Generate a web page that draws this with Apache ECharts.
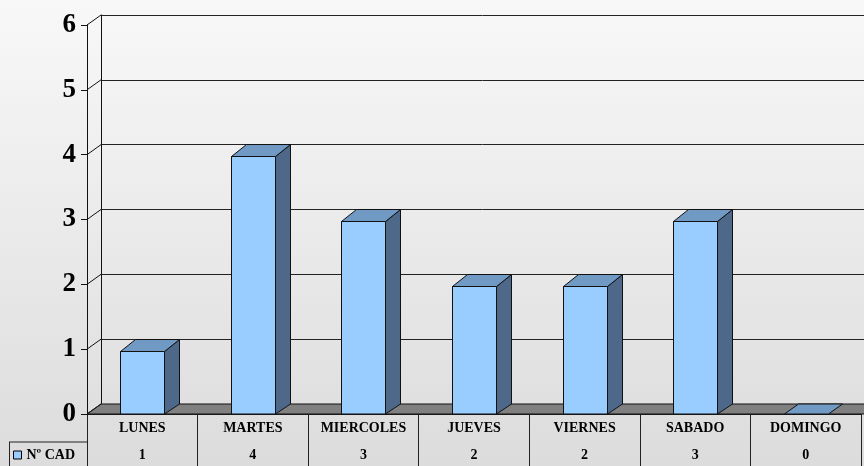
<!DOCTYPE html>
<html><head><meta charset="utf-8">
<script src="https://cdn.jsdelivr.net/npm/echarts@6/dist/echarts.min.js"></script>
<style>html,body{margin:0;padding:0;background:#fff}#c{width:864px;height:466px;}</style>
</head><body><div id="c"></div>
<script>
const categories = ['LUNES','MARTES','MIERCOLES','JUEVES','VIERNES','SABADO','DOMINGO'];
const values = [1,4,3,2,2,3,0];
const seriesName = 'Nº CAD';
const yTicks = [0,1,2,3,4,5,6];

const serif = '"Liberation Serif","Times New Roman",serif';
const BDX = 15, BDY = 12;   // bar depth offset
const FDX = 14, FDY = 10;   // floor / axis depth offset
const BW = 44;

const chart = echarts.init(document.getElementById('c'));

// bars drawn on the front grid (grid 1), extruded backwards
function renderBar(params, api) {
  const i = api.value(0), v = api.value(1);
  const c = api.coord([i, v]);
  const base = api.coord([i, 0]);
  const fx = Math.round(c[0] - BW / 2) + 0.5;
  const fb = base[1];
  const fy = Math.round(c[1] + 1.5) + 0.5;
  const bx = fx + BDX, by = fy - BDY;
  const bb = fb - FDY;
  const stroke = {stroke: '#111', lineWidth: 1};
  const children = [];
  if (v > 0) {
    children.push({type: 'polygon', shape: {points: [[fx + BW, fy], [bx + BW, by], [bx + BW, bb], [fx + BW, fb]]},
      style: Object.assign({fill: '#4d6889'}, stroke)});
    children.push({type: 'rect', shape: {x: fx, y: fy, width: BW, height: fb - fy},
      style: Object.assign({fill: '#99ccff'}, stroke)});
    children.push({type: 'polygon', shape: {points: [[fx, fy], [fx + BW, fy], [bx + BW, by], [bx, by]]},
      style: Object.assign({fill: '#7099c4'}, stroke)});
  } else {
    children.push({type: 'polygon', shape: {points: [[fx, fb], [fx + BW, fb], [fx + BW + FDX, bb], [fx + FDX, bb]]},
      style: Object.assign({fill: '#7099c4'}, stroke)});
  }
  return {type: 'group', children};
}

function renderConnector(params, api) {
  const cs = params.coordSys;
  const p = api.coord([0, api.value(1)]);
  return {type: 'line', shape: {x1: cs.x, y1: p[1], x2: cs.x - FDX, y2: p[1] + FDY},
    style: {stroke: '#111', lineWidth: 1}};
}

function renderFloor(params, api) {
  const cs = params.coordSys;
  const y0 = cs.y + cs.height;
  return {type: 'polygon', shape: {points: [[cs.x, y0], [cs.x + cs.width + 20, y0], [cs.x + cs.width + 20 - FDX, y0 + FDY], [cs.x - FDX, y0 + FDY]]},
    style: {fill: '#808080', stroke: '#111', lineWidth: 1}};
}

const option = {
  animation: false,
  backgroundColor: {type: 'linear', x: 0, y: 0, x2: 0, y2: 1,
    colorStops: [{offset: 0, color: '#f8f8f8'}, {offset: 1, color: '#dcdcdc'}]},
  grid: [
    {left: 101, top: 15, right: 0, height: 389},
    {left: 87, top: 25, width: 774, height: 389},
    {left: 87, top: 25, width: 774, height: 389}
  ],
  legend: {
    data: [seriesName], left: 13, top: 448, icon: 'rect', itemWidth: 8, itemHeight: 8, itemGap: 5,
    itemStyle: {color: '#99ccff', borderColor: '#000', borderWidth: 1},
    textStyle: {fontFamily: serif, fontWeight: 'bold', fontSize: 14, color: '#000'}, padding: 0
  },
  xAxis: [
    {gridIndex: 0, type: 'category', data: categories, show: false},
    {gridIndex: 1, type: 'category', data: categories, position: 'bottom',
      axisLine: {show: false},
      axisTick: {show: true, interval: 0, length: 52, lineStyle: {color: '#222'}},
      axisLabel: {interval: 0, margin: 7, fontFamily: serif, fontWeight: 'bold', fontSize: 14, color: '#000'}},
    {gridIndex: 2, type: 'category', data: categories, position: 'bottom', offset: 28,
      axisLine: {show: true, lineStyle: {color: '#222', width: 1}},
      axisTick: {show: false},
      axisLabel: {interval: 0, margin: 6, fontFamily: serif, fontWeight: 'bold', fontSize: 14, color: '#000',
        formatter: (val, idx) => String(values[idx])}}
  ],
  yAxis: [
    {gridIndex: 0, type: 'value', min: 0, max: 6, interval: 1,
      axisLine: {show: true, lineStyle: {color: '#111'}}, axisTick: {show: false}, axisLabel: {show: false},
      splitLine: {show: true, lineStyle: {color: '#222', width: 1}}},
    {gridIndex: 1, type: 'value', min: 0, max: 6, interval: 1,
      axisLine: {show: true, lineStyle: {color: '#111'}},
      axisTick: {show: true, length: 6, lineStyle: {color: '#111'}},
      axisLabel: {margin: 11, fontFamily: serif, fontWeight: 'bold', fontSize: 27, color: '#000'},
      splitLine: {show: false}},
    {gridIndex: 2, type: 'value', min: 0, max: 6, show: false}
  ],
  series: [
    {type: 'custom', name: 'floor', xAxisIndex: 0, yAxisIndex: 0, z: 1, silent: true,
      data: [[0, 0]], renderItem: renderFloor},
    {type: 'custom', name: 'connectors', xAxisIndex: 0, yAxisIndex: 0, z: 2, silent: true,
      data: yTicks.map(t => [0, t]), renderItem: renderConnector},
    {type: 'custom', name: seriesName, xAxisIndex: 1, yAxisIndex: 1, z: 5,
      itemStyle: {color: '#99ccff'},
      data: values.map((v, i) => [i, v]), renderItem: renderBar}
  ],
  graphic: [
    {type: 'line', shape: {x1: 9, y1: 442, x2: 87, y2: 442}, style: {stroke: '#222', lineWidth: 1}},
    {type: 'line', shape: {x1: 9.5, y1: 442, x2: 9.5, y2: 466}, style: {stroke: '#222', lineWidth: 1}}
  ]
};
chart.setOption(option);
</script>
</body></html>
